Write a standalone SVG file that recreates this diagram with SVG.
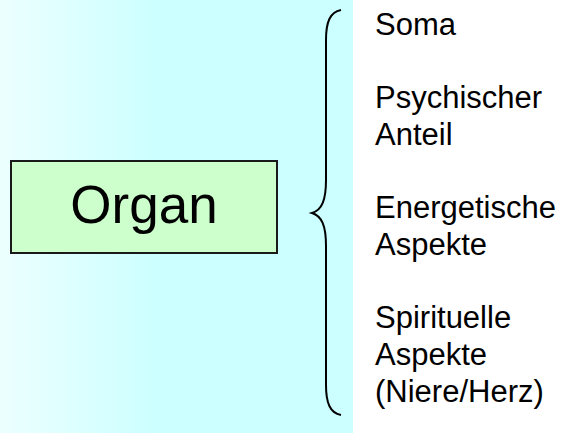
<svg xmlns="http://www.w3.org/2000/svg" width="565" height="433" viewBox="0 0 565 433">
  <defs>
    <linearGradient id="bg" x1="0" y1="0" x2="353" y2="0" gradientUnits="userSpaceOnUse">
      <stop offset="0" stop-color="#ecffff"/>
      <stop offset="0.45" stop-color="#ccffff"/>
      <stop offset="1" stop-color="#ccffff"/>
    </linearGradient>
    <style>
      .lbl { font-family: "Liberation Sans", Arial, sans-serif; font-size: 31px; fill: #000; }
      .big { font-family: "Liberation Sans", Arial, sans-serif; font-size: 53px; fill: #000; }
    </style>
  </defs>
  <rect x="0" y="0" width="565" height="433" fill="#ffffff"/>
  <rect x="0" y="0" width="353" height="433" fill="url(#bg)"/>
  <g id="organ">
    <rect x="11" y="161" width="266" height="92" fill="#ccffcc" stroke="#1a1a1a" stroke-width="2"/>
    <text class="big" x="144" y="223" text-anchor="middle">Organ</text>
  </g>
  <g id="connectors">
    <path d="M341,10 C330,12 326,22 326,40 L326,180 C326,200 322,210 312,213 C322,216 326,226 326,246 L326,385 C326,403 330,413 341,415" fill="none" stroke="#000" stroke-width="2"/>
  </g>
  <g id="soma"><text class="lbl" x="375" y="35">Soma</text></g>
  <g id="psychisch"><text class="lbl" x="375" y="108">Psychischer</text><text class="lbl" x="375" y="145">Anteil</text></g>
  <g id="energetisch"><text class="lbl" x="375" y="218">Energetische</text><text class="lbl" x="375" y="255">Aspekte</text></g>
  <g id="spirituell"><text class="lbl" x="375" y="328">Spirituelle</text><text class="lbl" x="375" y="365">Aspekte</text><text class="lbl" x="375" y="402">(Niere/Herz)</text></g>
</svg>
